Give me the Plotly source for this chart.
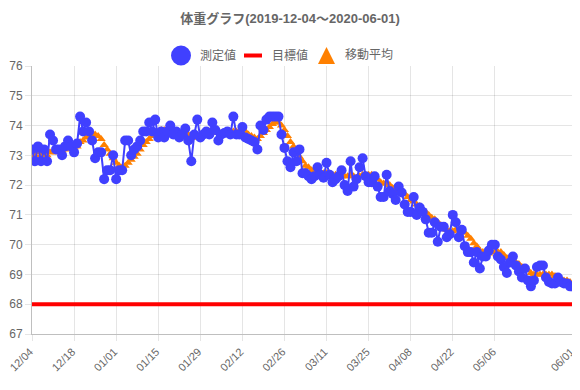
import plotly.graph_objects as go
import pandas as pd

start_date = "2019-12-04"
n_days = 181
dates = [d.strftime("%m/%d") for d in pd.date_range(start_date, periods=n_days, freq="D")]

measured = [
    73.2, 72.8, 73.3, 72.8, 73.2, 72.8, 73.7, 73.5, 73.2, 73.2,
    73.0, 73.3, 73.5, 73.3, 73.1, 73.4, 74.3, 73.8, 74.1, 73.8,
    73.5, 72.9, 73.1, 73.1, 72.2, 72.5, 72.5, 73.0, 72.2, 72.5,
    72.5, 73.5, 73.5, 73.0, 73.2, 73.3, 73.5, 73.8, 73.8, 74.1,
    73.8, 74.2, 73.6, 73.8, 73.6, 73.8, 74.0, 73.7, 73.8, 73.6,
    73.7, 73.9, 73.5, 72.8, 73.7, 74.2, 73.6, 73.7, 73.8, 73.7,
    74.1, 73.85, 73.5, 73.7, 73.75, 73.8, 73.7, 74.3, 73.7, 73.7,
    73.95, 73.6, 73.55, 73.5, 73.45, 73.2, 74.0, 73.85, 74.2, 74.3,
    74.3, 74.3, 74.3, 73.7, 73.25, 72.8, 72.6, 73.1, 72.8, 73.2,
    72.4, 72.4, 72.3, 72.2, 72.3, 72.6, 72.35, 72.25, 72.75, 72.35,
    72.1, 72.2, 72.3, 72.5, 72.0, 71.8, 72.8, 71.95, 72.2, 72.6,
    72.9, 72.3, 72.1, 72.1, 72.3, 71.95, 71.6, 71.6, 72.35, 71.8,
    71.7, 71.5, 71.95, 71.75, 71.35, 71.1, 71.1, 71.6, 71.0, 71.25,
    71.1, 70.85, 70.4, 70.4, 70.75, 70.1, 70.6, 70.6, 70.25, 70.35,
    71.0, 70.75, 70.25, 70.5, 69.95, 69.75, 69.75, 69.4, 69.75, 69.2,
    69.6, 69.6, 69.8, 70.0, 70.0, 69.6, 69.5, 69.25, 69.05, 69.4,
    69.6, 69.3, 69.1, 68.9, 69.2, 68.8, 68.6, 68.8, 69.25, 69.3,
    69.3, 68.9, 68.75, 68.7, 68.7, 68.9, 68.75, 68.7, 68.7, 68.6,
    68.6,
]

moving_avg = [
    73.2, 73.0, 73.1, 73.0, 73.05, 73.0, 73.1, 73.1, 73.1, 73.2,
    73.15, 73.2, 73.25, 73.3, 73.25, 73.3, 73.45, 73.5, 73.6, 73.65,
    73.7, 73.7, 73.65, 73.55, 73.35, 73.2, 73.05, 72.9, 72.75, 72.65,
    72.6, 72.65, 72.75, 72.85, 72.95, 73.05, 73.2, 73.35, 73.45, 73.55,
    73.65, 73.75, 73.8, 73.85, 73.85, 73.8, 73.8, 73.8, 73.8, 73.75,
    73.75, 73.75, 73.7, 73.6, 73.6, 73.65, 73.65, 73.7, 73.75, 73.8,
    73.8, 73.8, 73.75, 73.75, 73.75, 73.75, 73.75, 73.8, 73.8, 73.8,
    73.85, 73.8, 73.7, 73.65, 73.6, 73.55, 73.65, 73.75, 73.85, 73.95,
    74.05, 74.1, 74.1, 74.0, 73.85, 73.65, 73.45, 73.3, 73.1, 72.95,
    72.8, 72.65, 72.6, 72.5, 72.45, 72.4, 72.4, 72.4, 72.4, 72.4,
    72.35, 72.35, 72.35, 72.3, 72.3, 72.3, 72.35, 72.3, 72.25, 72.3,
    72.35, 72.35, 72.35, 72.35, 72.3, 72.2, 72.1, 72.05, 72.05, 72.0,
    71.9, 71.85, 71.8, 71.75, 71.7, 71.6, 71.5, 71.45, 71.35, 71.3,
    71.2, 71.1, 71.0, 70.9, 70.85, 70.75, 70.65, 70.6, 70.5, 70.45,
    70.45, 70.5, 70.5, 70.45, 70.4, 70.3, 70.2, 70.05, 69.95, 69.8,
    69.75, 69.7, 69.7, 69.75, 69.75, 69.75, 69.75, 69.65, 69.55, 69.45,
    69.45, 69.4, 69.35, 69.25, 69.2, 69.15, 69.05, 69.0, 69.0, 69.0,
    69.0, 69.0, 69.0, 69.0, 68.95, 68.9, 68.85, 68.8, 68.8, 68.75,
    68.7,
]

target_value = 68
target = [target_value] * n_days

tick_labels = ["12/04", "12/18", "01/01", "01/15", "01/29", "02/12", "02/26",
               "03/11", "03/25", "04/08", "04/22", "05/06", "06/01"]

title_text = "体重グラフ(2019-12-04～2020-06-01)"
name_measured = "測定値"
name_target = "目標値"
name_avg = "移動平均"

BLUE = "#4040ff"
RED = "#ff0000"
ORANGE = "#ff8000"
GREY = "#666666"
FONT = "Liberation Sans, Arial, 'Noto Sans CJK JP', sans-serif"

# the page body adds an 8px offset, so the figure is sized to fit the window
W, H = 572, 382
ML, MT = 24, 58
PW, PH = 541, 268


def px_x(fx):
    return (fx - ML) / PW


def px_y(fy):
    return 1 + (MT - fy) / PH


fig = go.Figure()

# moving average (drawn at the bottom)
fig.add_trace(go.Scatter(
    x=dates, y=moving_avg, mode="markers", showlegend=False, name=name_avg,
    marker=dict(symbol="triangle-up", size=8, color=ORANGE, line=dict(width=0)),
))
# target
fig.add_trace(go.Scatter(
    x=dates, y=target, mode="lines", showlegend=False, name=name_target,
    line=dict(color=RED, width=4),
))
# measured (on top)
fig.add_trace(go.Scatter(
    x=dates, y=measured, mode="lines+markers", showlegend=False, name=name_measured,
    line=dict(color=BLUE, width=2),
    marker=dict(symbol="circle", size=10, color=BLUE, line=dict(width=0)),
))

# custom legend (Chart.js style, compact)
leg_y = px_y(47.5)
legend_shapes = [
    dict(type="circle", xref="paper", yref="paper", xsizemode="pixel", ysizemode="pixel",
         xanchor=px_x(173), yanchor=leg_y, x0=-10, x1=10, y0=-10, y1=10,
         fillcolor=BLUE, line=dict(width=0)),
    dict(type="rect", xref="paper", yref="paper", xsizemode="pixel", ysizemode="pixel",
         xanchor=px_x(245), yanchor=leg_y, x0=-9, x1=9, y0=-2, y1=2,
         fillcolor=RED, line=dict(width=0)),
    dict(type="path", xref="paper", yref="paper", xsizemode="pixel", ysizemode="pixel",
         xanchor=px_x(318.5), yanchor=leg_y, path="M -8.5 -8.5 L 8.5 -8.5 L 0 8.5 Z",
         fillcolor=ORANGE, line=dict(width=0)),
]
legend_texts = [(190, name_measured), (262, name_target), (335, name_avg)]
annotations = [
    dict(text=t, xref="paper", yref="paper", x=px_x(fx), y=leg_y,
         xanchor="left", yanchor="middle", showarrow=False,
         font=dict(size=12, color=GREY, family=FONT))
    for fx, t in legend_texts
]

fig.update_layout(
    width=W, height=H,
    margin=dict(l=ML, r=W - ML - PW, t=MT, b=H - MT - PH, autoexpand=False),
    paper_bgcolor="white", plot_bgcolor="white",
    font=dict(family=FONT, size=12, color=GREY),
    title=dict(text="<b>" + title_text + "</b>", x=282 / W, xanchor="center",
               y=1 - 10.5 / H, yanchor="middle",
               font=dict(size=13, color=GREY, family=FONT)),
    showlegend=False,
    shapes=legend_shapes,
    annotations=annotations,
)

fig.update_xaxes(
    type="category", automargin=False,
    categoryorder="array", categoryarray=dates,
    range=[0, n_days - 1],
    tickmode="array", tickvals=tick_labels, ticktext=tick_labels,
    tickangle=-45, ticklabelshift=-2,
    showgrid=True, gridcolor="rgba(0,0,0,0.1)", gridwidth=1,
    ticks="outside", ticklen=6, tickcolor="rgba(0,0,0,0.1)",
    showline=True, linecolor="rgba(0,0,0,0.25)", linewidth=1,
    zeroline=False, tickfont=dict(size=11, color=GREY),
)
fig.update_yaxes(
    range=[67, 76], dtick=1, tick0=67, automargin=False,
    showgrid=True, gridcolor="rgba(0,0,0,0.1)", gridwidth=1,
    ticks="outside", ticklen=6, tickcolor="rgba(0,0,0,0.1)",
    showline=True, linecolor="rgba(0,0,0,0.25)", linewidth=1,
    zeroline=False, tickfont=dict(size=12, color=GREY),
)

fig.write_html("out.html")
